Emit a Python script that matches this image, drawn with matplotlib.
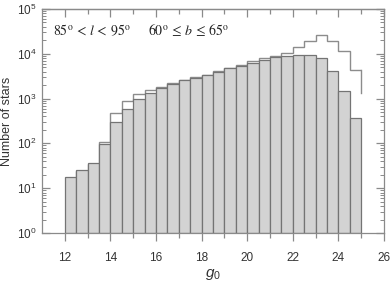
import numpy as np
import matplotlib
matplotlib.use("Agg")
import matplotlib.pyplot as plt
from matplotlib.ticker import LogLocator, FixedLocator, NullFormatter

plt.rcParams['font.family'] = ['Liberation Sans', 'DejaVu Sans']
plt.rcParams['mathtext.fontset'] = 'custom'
plt.rcParams['mathtext.rm'] = 'Liberation Sans'
plt.rcParams['mathtext.it'] = 'Liberation Sans:italic'

# bin edges (g0 magnitude, 0.5 mag bins)
bin_left = [12.0, 12.5, 13.0, 13.5, 14.0, 14.5, 15.0, 15.5, 16.0, 16.5, 17.0, 17.5, 18.0,
            18.5, 19.0, 19.5, 20.0, 20.5, 21.0, 21.5, 22.0, 22.5, 23.0, 23.5, 24.0, 24.5]
bin_width = 0.5

# gray filled histogram (counts)
gray_counts = [17, 24, 35, 94, 305, 600, 1000, 1360, 1700, 2150, 2570, 2950, 3320,
               4000, 4700, 5300, 6150, 7300, 8500, 8800, 9600, 9600, 8250, 4150, 1470, 360]
# outlined histogram (counts)
outline_counts = [17, 24, 35, 108, 465, 900, 1290, 1520, 1780, 2200, 2620, 3000, 3400,
                  4100, 4900, 5500, 6800, 7900, 8950, 10300, 13900, 19500, 26500, 19500, 11300, 4400]
outline_end_drop = 1350

edges = np.append(np.array(bin_left), bin_left[-1] + bin_width)

fig = plt.figure(figsize=(3.91, 2.83), dpi=100)
ax = fig.add_axes([0.1074, 0.1767, 0.8746, 0.7915])

spine_col = '#8a8a8a'
text_col = '#333333'

ax.stairs(outline_counts, edges, baseline=None, color='#8c8c8c', lw=1.0, zorder=1)
ax.plot([edges[-1], edges[-1]], [outline_counts[-1], outline_end_drop], color='#8c8c8c', lw=1.0, zorder=1)
ax.bar(bin_left, gray_counts, width=bin_width, align='edge', bottom=1,
       color='#d3d3d3', edgecolor='#747474', linewidth=0.9, zorder=2)

ax.set_yscale('log')
ax.set_ylim(1, 1e5)
ax.set_xlim(11, 26)

ax.xaxis.set_major_locator(FixedLocator([12, 14, 16, 18, 20, 22, 24, 26]))
ax.xaxis.set_minor_locator(FixedLocator([13, 15, 17, 19, 21, 23, 25]))
ax.yaxis.set_major_locator(LogLocator(base=10, numticks=10))
ax.yaxis.set_minor_locator(LogLocator(base=10, subs=np.arange(2, 10), numticks=10))
ax.yaxis.set_minor_formatter(NullFormatter())

for s in ax.spines.values():
    s.set_color(spine_col)
    s.set_linewidth(0.9)

ax.tick_params(axis='x', which='major', direction='out', length=6, width=0.9,
               color=spine_col, labelsize=8.5, labelcolor=text_col, pad=8)
ax.tick_params(axis='x', which='minor', direction='out', length=3.5, width=0.9, color=spine_col)
ax.tick_params(axis='y', which='major', direction='in', length=6, width=0.9, right=True,
               color=spine_col, labelsize=8.5, labelcolor=text_col, pad=4)
ax.tick_params(axis='y', which='minor', direction='in', length=3, width=0.7, right=True, color=spine_col)

top = ax.secondary_xaxis('top')
top.xaxis.set_major_locator(FixedLocator([12, 14, 16, 18, 20, 22, 24, 26]))
top.xaxis.set_minor_locator(FixedLocator([13, 15, 17, 19, 21, 23, 25]))
top.tick_params(axis='x', which='major', direction='in', length=6, width=0.9, color=spine_col, labeltop=False)
top.tick_params(axis='x', which='minor', direction='in', length=3.5, width=0.9, color=spine_col)
top.spines['top'].set_color(spine_col)
top.spines['top'].set_linewidth(0.9)

ax.set_xlabel(r'$\mathit{g}_{0}$', fontsize=11, color=text_col, labelpad=2)
ax.set_ylabel('Number of stars', fontsize=9, color=text_col)
ax.yaxis.set_label_coords(-0.085, 0.5)

ax.text(0.032, 0.905, r'$85^{\mathrm{o}}\,<\,l\,<\,95^{\mathrm{o}}$', transform=ax.transAxes,
        fontsize=10, math_fontfamily='stix', color='#222222', va='center', ha='left')
ax.text(0.31, 0.905, r'$60^{\mathrm{o}}\,\leq\,b\,\leq\,65^{\mathrm{o}}$', transform=ax.transAxes,
        fontsize=10, math_fontfamily='stix', color='#222222', va='center', ha='left')

fig.savefig('out.png', dpi=100)
